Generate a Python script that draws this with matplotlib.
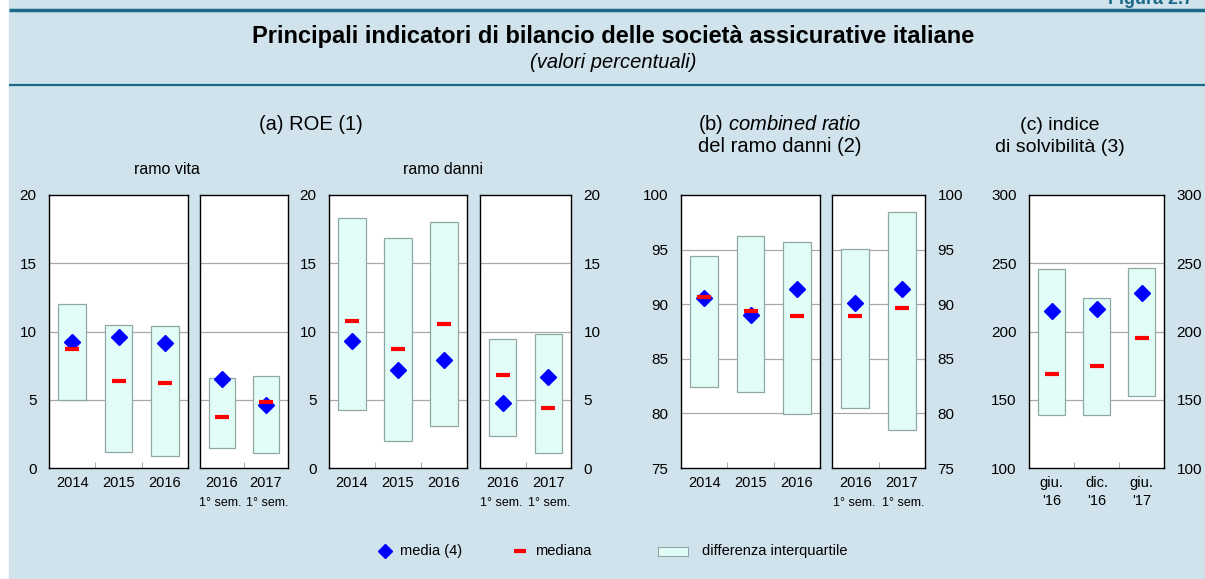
import matplotlib.pyplot as plt
from matplotlib.patches import Rectangle

plt.rcParams['font.family'] = ['Liberation Sans', 'DejaVu Sans']
plt.rcParams['mathtext.fontset'] = 'custom'
plt.rcParams['mathtext.rm'] = 'Liberation Sans'
plt.rcParams['mathtext.it'] = 'Liberation Sans:italic'

W, H = 1205, 579

# ROE ramo vita
vita_years = ['2014', '2015', '2016']
vita_q1 = [5.0, 1.2, 0.9]
vita_q3 = [12.0, 10.45, 10.4]
vita_mean = [9.25, 9.6, 9.15]
vita_median = [8.75, 6.35, 6.25]
vita_sem = ['2016', '2017']
vita_sem_q1 = [1.45, 1.1]
vita_sem_q3 = [6.6, 6.75]
vita_sem_mean = [6.5, 4.6]
vita_sem_median = [3.75, 4.8]

# ROE ramo danni
danni_q1 = [4.25, 2.0, 3.05]
danni_q3 = [18.3, 16.85, 18.05]
danni_mean = [9.3, 7.15, 7.9]
danni_median = [10.75, 8.75, 10.55]
danni_sem_q1 = [2.35, 1.1]
danni_sem_q3 = [9.45, 9.8]
danni_sem_mean = [4.75, 6.7]
danni_sem_median = [6.8, 4.4]

# combined ratio
cr_q1 = [82.4, 82.0, 79.9]
cr_q3 = [94.4, 96.2, 95.7]
cr_mean = [90.55, 89.0, 91.35]
cr_median = [90.65, 89.4, 88.9]
cr_sem_q1 = [80.45, 78.45]
cr_sem_q3 = [95.1, 98.4]
cr_sem_mean = [90.15, 91.35]
cr_sem_median = [88.95, 89.65]

# indice di solvibilita
solv_labels = ['giu.\n\'16', 'dic.\n\'16', 'giu.\n\'17']
solv_q1 = [138.5, 138.5, 153.0]
solv_q3 = [246.0, 224.5, 246.5]
solv_mean = [214.8, 216.3, 228.0]
solv_median = [168.7, 174.8, 195.0]

BG = '#d0e2ec'
TEAL = '#1b6a86'
BOXFACE = '#e2fdf8'
BOXEDGE = '#8fa8a4'

fig = plt.figure(figsize=(W / 100, H / 100), dpi=100, facecolor='white')

# background, frame lines, titles, legend
bg = fig.add_axes([0, 0, 1, 1], zorder=-1)
bg.set_xlim(0, W)
bg.set_ylim(H, 0)
bg.axis('off')
bg.add_patch(Rectangle((9, 0), W - 9, H, color=BG))
bg.plot([9, W], [10, 10], color=TEAL, lw=2.5, solid_capstyle='butt')
bg.plot([9, W], [84.5, 84.5], color=TEAL, lw=1.6, solid_capstyle='butt')
bg.text(1108, 4, 'Figura 2.7', color=TEAL, fontsize=13, fontweight='bold', va='baseline', ha='left')
bg.text(613, 36, 'Principali indicatori di bilancio delle società assicurative italiane',
        fontsize=17, fontweight='bold', ha='center', va='center')
bg.text(613, 62, '(valori percentuali)', fontsize=14.5, style='italic', ha='center', va='center')

bg.text(311, 124, '(a) ROE (1)', fontsize=14.5, ha='center', va='center')
bg.text(167, 170, 'ramo vita', fontsize=11.5, ha='center', va='center')
bg.text(443, 170, 'ramo danni', fontsize=11.5, ha='center', va='center')
bg.text(780, 125, r'(b) $\mathit{combined\ ratio}$', fontsize=14.5, ha='center', va='center')
bg.text(780, 147, 'del ramo danni (2)', fontsize=14.5, ha='center', va='center')
bg.text(1060, 125, '(c) indice', fontsize=14, ha='center', va='center')
bg.text(1060, 147, 'di solvibilità (3)', fontsize=14, ha='center', va='center')

# legend
bg.plot([385], [551], marker='D', color='blue', markersize=7, linestyle='none')
bg.text(400, 551, 'media (4)', fontsize=10.5, va='center')
bg.plot([514, 526], [551, 551], color='red', lw=3, solid_capstyle='butt')
bg.text(535, 551, 'mediana', fontsize=10.5, va='center')
bg.add_patch(Rectangle((658, 547), 30, 9, facecolor=BOXFACE, edgecolor=BOXEDGE, lw=0.8))
bg.text(702, 551, 'differenza interquartile', fontsize=10.5, va='center')


def add_ax(l, t, r, b):
    return fig.add_axes([l / W, 1 - b / H, (r - l) / W, (b - t) / H])


def draw(ax, labels, q1, q3, mean, median, ylim, ystep, left=True, right=False, sem=False):
    n = len(labels)
    x = [i + 0.5 for i in range(n)]
    ax.set_facecolor('white')
    ax.set_xlim(0, n)
    ax.set_ylim(*ylim)
    ticks = list(range(ylim[0], ylim[1] + 1, ystep))
    ax.set_yticks(ticks)
    for t in ticks[1:-1]:
        ax.axhline(t, color='#a8a8a8', lw=0.9, zorder=1)
    heights = [b - a for a, b in zip(q1, q3)]
    ax.bar(x, heights, bottom=q1, width=0.6, color=BOXFACE, edgecolor=BOXEDGE, lw=0.9, zorder=2)
    ax.plot(x, mean, 'D', color='blue', markersize=8, linestyle='none', zorder=3)
    ax.plot(x, median, '_', color='red', markersize=10, markeredgewidth=3, linestyle='none', zorder=4)
    ax.set_xticks(x)
    ax.set_xticklabels(labels, fontsize=10.5, linespacing=1.3)
    ax.set_xticks(list(range(1, n)), minor=True)
    ax.tick_params(axis='x', which='major', length=0, pad=6)
    ax.tick_params(axis='x', which='minor', direction='in', length=4, color='#999999')
    ax.tick_params(axis='y', length=0, labelsize=11, pad=9,
                   labelleft=left, labelright=right)
    for s in ax.spines.values():
        s.set_linewidth(1.0)
        s.set_color('black')
    if sem:
        for i, xi in enumerate(x):
            ax.annotate('1° sem.', (xi, 0), xycoords=('data', 'axes fraction'),
                        xytext=(-1 if i == 0 else 1, -21), textcoords='offset points',
                        ha='center', va='top', fontsize=9)


ax1 = add_ax(49, 195, 188, 468)
draw(ax1, vita_years, vita_q1, vita_q3, vita_mean, vita_median, (0, 20), 5)
ax2 = add_ax(200, 195, 288, 468)
draw(ax2, vita_sem, vita_sem_q1, vita_sem_q3, vita_sem_mean, vita_sem_median, (0, 20), 5,
     left=False, sem=True)
ax3 = add_ax(329, 195, 467, 468)
draw(ax3, vita_years, danni_q1, danni_q3, danni_mean, danni_median, (0, 20), 5)
ax4 = add_ax(480, 195, 571, 468)
draw(ax4, vita_sem, danni_sem_q1, danni_sem_q3, danni_sem_mean, danni_sem_median, (0, 20), 5,
     left=False, right=True, sem=True)
ax5 = add_ax(681, 195, 820, 468)
draw(ax5, vita_years, cr_q1, cr_q3, cr_mean, cr_median, (75, 100), 5)
ax6 = add_ax(832, 195, 925, 468)
draw(ax6, vita_sem, cr_sem_q1, cr_sem_q3, cr_sem_mean, cr_sem_median, (75, 100), 5,
     left=False, right=True, sem=True)
ax7 = add_ax(1029, 195, 1164, 468)
draw(ax7, solv_labels, solv_q1, solv_q3, solv_mean, solv_median, (100, 300), 50,
     left=True, right=True)

fig.savefig('out.png', dpi=100, facecolor='white')
